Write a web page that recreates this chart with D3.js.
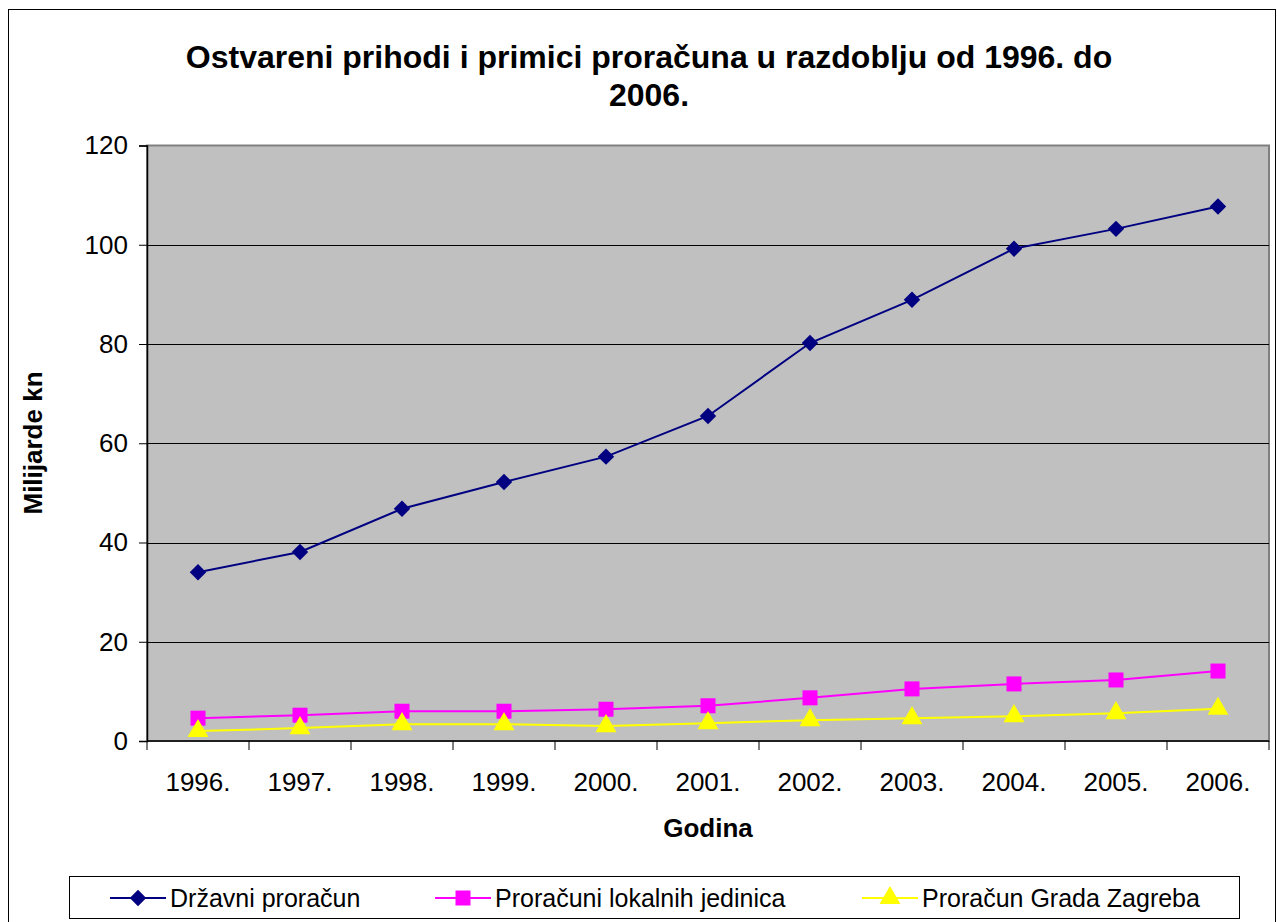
<!DOCTYPE html>
<html>
<head>
<meta charset="utf-8">
<script src="https://cdn.jsdelivr.net/npm/d3@7"></script>
<style>
  body { margin: 0; background: #fff; }
  text { font-family: "Liberation Sans", Arial, sans-serif; }
</style>
</head>
<body>
<div id="chart"></div>
<script>
// data
const years = ["1996.", "1997.", "1998.", "1999.", "2000.", "2001.", "2002.", "2003.", "2004.", "2005.", "2006."];
const drzavni = [34.0, 38.1, 46.8, 52.2, 57.3, 65.5, 80.2, 88.9, 99.2, 103.2, 107.7];
const lokalni = [4.6, 5.2, 6.0, 6.0, 6.4, 7.1, 8.7, 10.5, 11.5, 12.3, 14.1];
const zagreb = [2.0, 2.6, 3.4, 3.4, 3.0, 3.6, 4.2, 4.6, 5.0, 5.6, 6.5];
const yTicks = [0, 20, 40, 60, 80, 100, 120];
const seriesNames = ["Državni proračun", "Proračuni lokalnih jedinica", "Proračun Grada Zagreba"];

const width = 1277, height = 922;
const plot = { left: 147, top: 145.5, right: 1269, bottom: 741 };

let svg = d3.select("#chart").append("svg")
    .attr("width", width)
    .attr("height", height);

// outer chart border
svg.append("rect")
    .attr("x", 8.5).attr("y", 9.5)
    .attr("width", 1267).attr("height", 930)
    .attr("fill", "#fff").attr("stroke", "#000").attr("stroke-width", 1);

let x = d3.scaleBand().domain(years).range([plot.left, plot.right]);
let y = d3.scaleLinear().domain([0, 120]).range([plot.bottom, plot.top]);

// plot background
svg.append("rect")
    .attr("x", plot.left).attr("y", plot.top)
    .attr("width", plot.right - plot.left).attr("height", plot.bottom - plot.top)
    .attr("fill", "#c0c0c0").attr("stroke", "#808080").attr("stroke-width", 2);

// gridlines
svg.append("g")
    .selectAll("line")
    .data(yTicks.filter(d => d > 0 && d < 120))
    .enter().append("line")
    .attr("x1", plot.left).attr("x2", plot.right)
    .attr("y1", d => Math.round(y(d)) + 0.5).attr("y2", d => Math.round(y(d)) + 0.5)
    .attr("stroke", "#000").attr("stroke-width", 1);

// y axis
let yAxis = svg.append("g")
    .attr("transform", `translate(${plot.left},0)`)
    .call(d3.axisLeft(y).tickValues(yTicks).tickSize(8).tickPadding(11).tickFormat(d3.format("d")));
yAxis.select(".domain").attr("stroke", "#000").attr("stroke-width", 1.5);
yAxis.selectAll("text").attr("font-size", 26).attr("fill", "#000")
    .style("font-family", "'Liberation Sans', Arial, sans-serif");

// x axis, ticks between categories
let xAxis = svg.append("g")
    .attr("transform", `translate(0,${plot.bottom})`);
xAxis.append("line")
    .attr("x1", plot.left).attr("x2", plot.right)
    .attr("y1", 0).attr("y2", 0)
    .attr("stroke", "#000").attr("stroke-width", 1.5);
xAxis.selectAll("line.tick")
    .data(years.concat(["end"]))
    .enter().append("line")
    .attr("class", "tick")
    .attr("x1", (d, i) => plot.left + i * x.step()).attr("x2", (d, i) => plot.left + i * x.step())
    .attr("y1", 0).attr("y2", 9)
    .attr("stroke", "#000").attr("stroke-width", 1);
xAxis.selectAll("text")
    .data(years)
    .enter().append("text")
    .attr("x", d => x(d) + x.bandwidth() / 2)
    .attr("y", 50)
    .attr("text-anchor", "middle")
    .attr("font-size", 26)
    .text(d => d);

// lines and markers
let cx = d => x(d) + x.bandwidth() / 2;
let series = [
    { name: seriesNames[0], values: drzavni, color: "#000080", shape: d3.symbolSquare, size: 135, rot: 45 },
    { name: seriesNames[1], values: lokalni, color: "#ff00ff", shape: d3.symbolSquare, size: 225, rot: 0 },
    { name: seriesNames[2], values: zagreb, color: "#ffff00", shape: d3.symbolTriangle, size: 190, rot: 0 }
];

let line = d3.line()
    .x(d => cx(d.year))
    .y(d => y(d.value));

series.forEach(s => {
    let pts = years.map((yr, i) => ({ year: yr, value: s.values[i] }));
    svg.append("path")
        .datum(pts)
        .attr("d", line)
        .attr("fill", "none")
        .attr("stroke", s.color)
        .attr("stroke-width", 2);
    svg.append("g")
        .selectAll("path")
        .data(pts)
        .enter().append("path")
        .attr("d", d3.symbol().type(s.shape).size(s.size))
        .attr("transform", d => `translate(${cx(d.year)},${y(d.value)}) rotate(${s.rot})`)
        .attr("fill", s.color);
});

// title
let title = svg.append("text")
    .attr("text-anchor", "middle")
    .attr("font-size", 32)
    .attr("font-weight", "bold");
title.append("tspan").attr("x", 649).attr("y", 68)
    .text("Ostvareni prihodi i primici proračuna u razdoblju od 1996. do");
title.append("tspan").attr("x", 649).attr("y", 106)
    .text("2006.");

// axis titles
svg.append("text")
    .attr("transform", "translate(42,443) rotate(-90)")
    .attr("text-anchor", "middle")
    .attr("font-size", 26)
    .attr("font-weight", "bold")
    .text("Milijarde kn");

svg.append("text")
    .attr("x", 708).attr("y", 837)
    .attr("text-anchor", "middle")
    .attr("font-size", 26)
    .attr("font-weight", "bold")
    .text("Godina");

// legend
let legend = svg.append("g");
legend.append("rect")
    .attr("x", 69.5).attr("y", 876.5)
    .attr("width", 1170).attr("height", 42)
    .attr("fill", "#fff").attr("stroke", "#000").attr("stroke-width", 1);

let legendX = [110, 435, 862];
series.forEach((s, i) => {
    let g = legend.append("g").attr("transform", `translate(${legendX[i]},898)`);
    g.append("line")
        .attr("x1", 0).attr("x2", 56).attr("y1", 0).attr("y2", 0)
        .attr("stroke", s.color).attr("stroke-width", 2);
    g.append("path")
        .attr("d", d3.symbol().type(s.shape).size(s.size))
        .attr("transform", `translate(28,0) rotate(${s.rot})`)
        .attr("fill", s.color);
    g.append("text")
        .attr("x", 60).attr("y", 9)
        .attr("font-size", 25)
        .text(s.name);
});
</script>
</body>
</html>
